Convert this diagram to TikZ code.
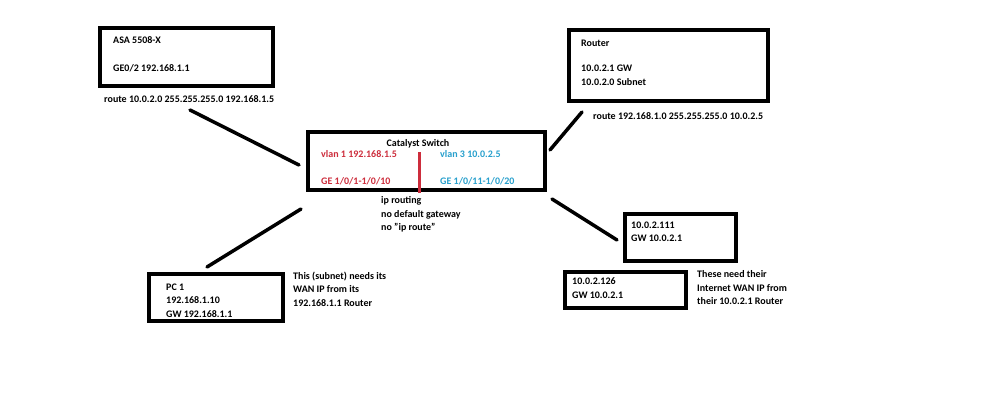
\documentclass[tikz,border=0pt]{standalone}
\usepackage{fontspec}
\setmainfont{Carlito}
\definecolor{vred}{RGB}{205,45,60}
\definecolor{vblue}{RGB}{40,160,205}
\begin{document}
\begin{tikzpicture}[x=1pt,y=-1pt,
  box/.style={draw=black,line width=4pt},
  txt/.style={font=\bfseries\fontsize{10}{13.5}\selectfont,align=left,inner sep=0pt,anchor=west},
  link/.style={draw=black,line width=3.5pt,line cap=round}]
\useasboundingbox[fill=white] (0,0) rectangle (998,417);
% boxes
\draw[box] (100,28) rectangle (273,86);
\draw[box] (569,30) rectangle (768,101);
\draw[box] (308,132) rectangle (545,190);
\draw[box] (149,274) rectangle (283,321);
\draw[box] (625,214) rectangle (736,261);
\draw[box] (565,272) rectangle (686,308);
% ASA
\node[txt] (asa) at (113,40) {ASA 5508-X};
\node[txt] (asage) at (113,68) {GE0/2 192.168.1.1};
\node[txt] (asaroute) at (104,99) {route 10.0.2.0 255.255.255.0 192.168.1.5};
% Router
\node[txt] (rt) at (581,43) {Router};
\node[txt] (rtip) at (581,75.5) {10.0.2.1 GW\\10.0.2.0 Subnet};
\node[txt] (rtroute) at (593,116) {route 192.168.1.0 255.255.255.0 10.0.2.5};
% Switch
\node[font=\bfseries\fontsize{10}{13.5}\selectfont,inner sep=0pt] (sw) at (418,144) {Catalyst Switch};
\node[txt,text=vred] (v1) at (321,154) {vlan 1 192.168.1.5};
\node[txt,text=vblue] (v3) at (440,154) {vlan 3 10.0.2.5};
\node[txt,text=vred] (ge1) at (321,181) {GE 1/0/1-1/0/10};
\node[txt,text=vblue] (ge2) at (440,181) {GE 1/0/11-1/0/20};
\coordinate (rtop) at (419,152);
\coordinate (rbot) at (419,193);
\draw[vred,line width=3pt] (rtop) -- (rbot);
\node[txt] (swnote) at (381,214.5) {ip routing\\no default gateway\\no \symbol{34}ip route\symbol{34}};
% PC1
\node[txt] (pc) at (166,300.5) {PC 1\\192.168.1.10\\GW 192.168.1.1};
\node[txt] (pcnote) at (293,289) {This (subnet) needs its\\WAN IP from its\\192.168.1.1 Router};
% 10.0.2.x hosts
\node[txt] (h111) at (631,232) {10.0.2.111\\GW 10.0.2.1};
\node[txt] (h126) at (572,288) {10.0.2.126\\GW 10.0.2.1};
\node[txt] (hnote) at (697,288) {These need their\\Internet WAN IP from\\their 10.0.2.1 Router};
% connectors
\coordinate (c1a) at (190,110); \coordinate (c1b) at (299,165);
\coordinate (c2a) at (582,112); \coordinate (c2b) at (550,150);
\coordinate (c3a) at (207,267); \coordinate (c3b) at (301,209);
\coordinate (c4a) at (552,199); \coordinate (c4b) at (617,240);
\draw[link] (c1a) -- (c1b);
\draw[link] (c2a) -- (c2b);
\draw[link] (c3a) -- (c3b);
\draw[link] (c4a) -- (c4b);
\end{tikzpicture}
\end{document}
